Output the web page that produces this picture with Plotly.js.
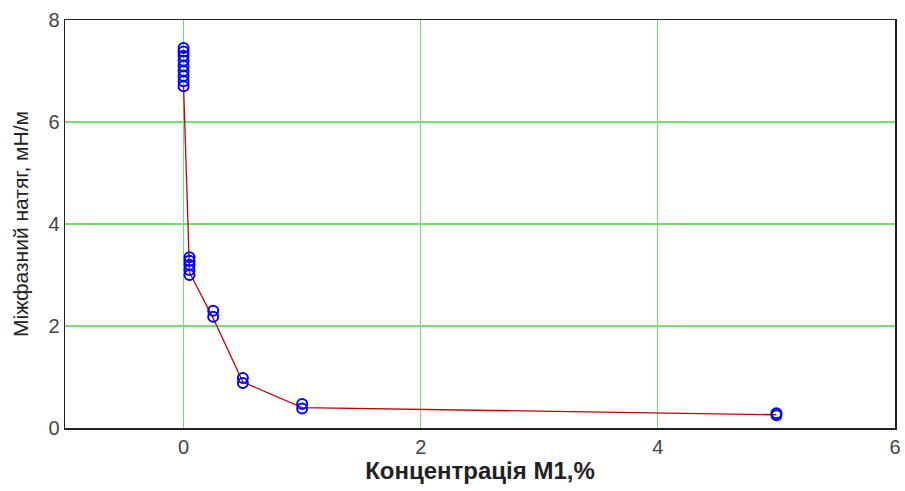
<!DOCTYPE html>
<html><head><meta charset="utf-8">
<script src="https://cdn.plot.ly/plotly-3.0.1.min.js"></script>
<style>body{margin:0;background:#fff}#c{width:905px;height:491px}</style>
</head><body><div id="c"></div>
<script>
// measured points
const pointX = [0,0,0,0,0,0,0,0,0, 0.05,0.05,0.05,0.05,0.05, 0.25,0.25, 0.5,0.5, 1,1, 5,5];
const pointY = [7.45,7.38,7.3,7.2,7.1,7.0,6.9,6.8,6.7, 3.35,3.28,3.2,3.1,3.0, 2.3,2.18, 0.98,0.88, 0.47,0.38, 0.29,0.25];
// connecting curve
const lineX = [0, 0.05, 0.25, 0.5, 1, 5];
const lineY = [6.7, 3.05, 2.15, 0.9, 0.4, 0.26];
const xTicks = [0, 2, 4, 6];
const yTicks = [0, 2, 4, 6, 8];

const traces = [
  {x: lineX, y: lineY, mode: 'lines', line: {color: '#c00000', width: 1.3}, hoverinfo: 'skip'},
  {x: pointX, y: pointY, mode: 'markers',
   marker: {symbol: 'circle-open', size: 10, color: '#0000ff', line: {width: 2, color: '#0000ff'}}}
];
const tickFont = {family: 'Liberation Sans Narrow, Liberation Sans, Arial, sans-serif', size: 20, color: '#444'};
const layout = {
  width: 905, height: 491,
  margin: {l: 65, r: 10, t: 20, b: 63},
  showlegend: false,
  paper_bgcolor: '#fff', plot_bgcolor: '#fff',
  xaxis: {
    range: [-1, 6], tickvals: xTicks, ticktext: xTicks.map(String),
    showgrid: true, gridcolor: '#70e070', gridwidth: 1.2, zeroline: false,
    showline: true, linecolor: '#222', linewidth: 1.5, mirror: true,
    ticks: '', tickfont: tickFont,
    title: {text: 'Концентрація М1,%', font: {family: 'Liberation Sans, Arial, sans-serif', size: 24, color: '#222', weight: 'bold'}, standoff: 0}
  },
  yaxis: {
    range: [0, 8], tickvals: yTicks, ticktext: yTicks.map(String),
    showgrid: true, gridcolor: '#70e070', gridwidth: 1.2, zeroline: false,
    showline: true, linecolor: '#222', linewidth: 1.5, mirror: true,
    ticks: '', tickfont: tickFont,
    title: {text: 'Міжфазний натяг, мН/м', font: {family: 'Liberation Sans, Arial, sans-serif', size: 21, color: '#222'}, standoff: 14}
  }
};
Plotly.newPlot('c', traces, layout, {displayModeBar: false, staticPlot: true});
</script></body></html>
